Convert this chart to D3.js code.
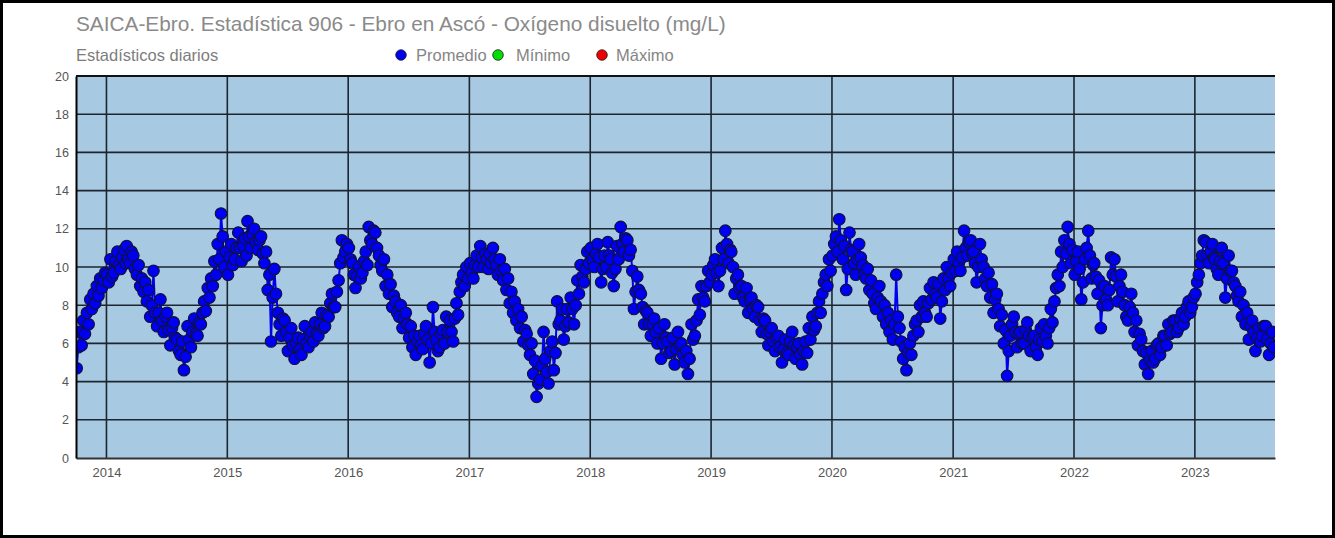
<!DOCTYPE html>
<html>
<head>
<meta charset="utf-8">
<script src="https://cdn.jsdelivr.net/npm/d3@7"></script>
<style>
  html, body { margin: 0; padding: 0; background: #fff; }
  #chart { width: 1335px; height: 538px; box-sizing: border-box; border: 3px solid #000; }
  text { font-family: "Liberation Sans", Arial, sans-serif; }
</style>
</head>
<body>
<div id="chart"></div>
<script>
// daily statistics, read as 6 readings per month (days 3, 8, 13, 18, 23, 28)
const oxy2013 = [4.7, 5.8, 6.6, 5.9, 7.2, 6.5,  7.6, 7.0, 8.3, 7.8, 8.6, 8.1,  9.0, 8.5, 9.4, 8.9, 9.3, 9.7];
const oxy2014 = [9.6, 9.2, 10.4, 9.5, 9.7, 10.3,  10.8, 10.1, 9.9, 10.5, 10.9, 10.2,
                 11.1, 10.4, 10.2, 10.8, 10.6, 9.9,  9.6, 10.1, 9.0, 9.4, 8.7, 9.2,
                 8.2, 8.8, 7.4, 8.0, 9.8, 7.6,  6.9, 7.6, 8.3, 7.2, 6.6, 7.4,
                 7.6, 6.7, 5.9, 6.8, 7.1, 6.3,  6.2, 5.6, 5.4, 6.1, 4.6, 5.3,
                 6.9, 6.2, 5.8, 6.6, 7.3, 6.5,  6.4, 7.1, 7.0, 7.6, 8.2, 7.7,
                 8.9, 8.4, 9.4, 9.0, 10.3, 9.6,  11.2, 10.4, 12.8, 11.6, 10.0, 10.8];
const oxy2015 = [9.6, 10.5, 11.2, 10.1, 10.4, 11.0,  11.8, 11.0, 10.3, 11.1, 11.5, 10.6,
                 12.4, 11.6, 11.0, 11.7, 12.0, 11.3,  10.9, 11.4, 11.6, 10.7, 10.2, 10.8,
                 8.8, 9.6, 6.1, 8.4, 9.9, 8.6,  7.6, 7.0, 6.4, 7.3, 7.2, 6.6,
                 5.6, 6.3, 6.8, 5.9, 5.2, 6.0,  6.3, 5.7, 5.4, 6.2, 6.9, 6.0,
                 5.8, 6.4, 6.6, 6.1, 7.1, 6.5,  6.4, 7.0, 7.6, 6.8, 6.9, 7.5,
                 7.4, 8.1, 8.6, 7.9, 7.9, 8.7,  9.3, 10.2, 11.4, 10.5, 10.8, 11.2];
const oxy2016 = [11.0, 10.4, 10.2, 9.6, 8.9, 9.5,  10.0, 9.4, 9.7, 10.3, 10.8, 10.1,
                 12.1, 11.4, 11.2, 11.9, 11.8, 11.0,  10.6, 10.1, 9.8, 10.4, 9.0, 9.6,
                 8.6, 9.1, 7.9, 8.5, 8.2, 7.6,  7.4, 8.0, 6.8, 7.3, 7.6, 7.0,
                 6.3, 6.9, 5.8, 6.4, 5.4, 6.1,  6.4, 5.9, 5.7, 6.5, 6.9, 6.2,
                 5.0, 6.0, 7.9, 6.6, 6.2, 5.6,  5.8, 6.5, 6.7, 6.0, 7.4, 6.6,
                 7.2, 6.6, 6.1, 7.3, 8.1, 7.5,  8.7, 9.2, 9.6, 9.0, 10.0, 9.4];
const oxy2017 = [10.2, 9.7, 9.4, 10.1, 10.6, 10.0,  11.1, 10.5, 10.0, 10.7, 10.4, 9.9,
                 10.7, 10.2, 11.0, 10.4, 10.1, 9.6,  10.4, 9.8, 9.3, 9.9, 8.8, 9.4,
                 8.1, 8.7, 7.6, 8.2, 7.2, 7.8,  6.8, 7.4, 6.1, 6.7, 6.5, 5.9,
                 5.4, 6.0, 4.4, 5.1, 3.2, 3.9,  4.1, 4.8, 6.6, 5.2, 4.5, 3.9,
                 5.6, 6.1, 4.6, 5.5, 8.2, 7.0,  7.2, 7.8, 6.2, 6.9, 7.8, 7.1,
                 8.4, 7.8, 7.0, 8.0, 9.3, 8.6,  10.1, 9.5, 9.2, 9.9, 10.8, 10.2];
const oxy2018 = [11.0, 10.4, 10.0, 10.7, 11.2, 10.5,  9.2, 9.9, 10.6, 10.0, 11.3, 10.6,
                 10.4, 9.7, 9.0, 9.9, 11.1, 10.4,  12.1, 11.2, 10.8, 11.5, 11.4, 10.6,
                 10.9, 9.8, 7.8, 8.7, 9.5, 8.8,  8.6, 7.9, 7.0, 7.7, 7.6, 7.0,
                 6.4, 7.0, 7.3, 6.6, 6.0, 6.8,  5.2, 6.0, 7.0, 6.3, 6.1, 5.5,
                 5.6, 6.3, 4.9, 5.7, 6.6, 5.9,  6.0, 5.4, 5.0, 5.6, 4.4, 5.2,
                 7.0, 6.2, 6.4, 7.2, 8.3, 7.5,  9.0, 8.4, 8.2, 9.0, 9.8, 9.2];
const oxy2019 = [9.6, 10.1, 10.4, 9.7, 9.0, 9.8,  11.0, 10.4, 11.9, 11.2, 10.2, 10.9,
                 10.8, 10.0, 8.6, 9.4, 9.6, 8.9,  9.0, 8.4, 8.2, 8.9, 7.6, 8.3,
                 8.4, 7.8, 7.4, 8.0, 7.9, 7.2,  6.6, 7.3, 7.2, 6.5, 5.9, 6.6,
                 6.8, 6.1, 5.6, 6.3, 6.4, 5.8,  5.0, 5.7, 6.2, 5.5, 5.4, 6.1,
                 6.6, 5.9, 5.2, 5.8, 6.0, 5.4,  4.9, 5.6, 6.1, 5.5, 6.8, 6.2,
                 7.4, 6.7, 6.9, 7.6, 8.2, 7.6,  8.6, 9.2, 9.6, 9.0, 10.4, 9.8];
const oxy2020 = [10.6, 11.2, 11.6, 10.8, 12.5, 11.4,  10.4, 11.1, 8.8, 9.9, 11.8, 10.9,
                 10.8, 10.2, 9.6, 10.4, 11.2, 10.5,  10.1, 9.6, 9.4, 9.9, 8.8, 9.3,
                 8.6, 8.1, 7.8, 8.4, 9.0, 8.2,  7.4, 8.0, 7.0, 7.6, 6.6, 7.2,
                 6.2, 7.0, 9.6, 7.4, 6.8, 6.1,  5.2, 5.8, 4.6, 5.5, 6.0, 5.4,
                 6.4, 7.0, 7.2, 6.6, 8.0, 7.4,  8.2, 7.6, 7.4, 8.1, 8.9, 8.3,
                 9.2, 8.6, 8.4, 9.1, 7.3, 8.2,  9.4, 8.8, 10.0, 9.4, 9.0, 9.7];
const oxy2021 = [10.4, 9.8, 10.8, 10.2, 9.8, 10.5,  11.9, 11.0, 10.6, 11.3, 11.4, 10.7,
                 10.8, 10.2, 9.2, 10.0, 11.2, 10.4,  10.0, 9.4, 9.0, 9.7, 8.4, 9.1,
                 7.6, 8.3, 8.6, 7.8, 6.9, 7.5,  6.0, 6.7, 4.3, 5.6, 6.4, 7.0,
                 7.4, 6.6, 5.8, 6.5, 6.6, 6.0,  6.0, 6.7, 7.1, 6.4, 5.6, 6.3,
                 6.4, 5.8, 5.4, 6.2, 6.8, 6.1,  7.0, 6.4, 6.0, 6.8, 7.8, 7.1,
                 8.2, 8.9, 9.6, 9.0, 10.8, 10.0,  11.4, 10.7, 12.1, 11.2, 10.2, 10.9];
const oxy2022 = [9.6, 10.3, 10.8, 9.9, 8.3, 9.2,  10.4, 11.0, 11.9, 10.6, 9.4, 10.1,
                 10.2, 9.5, 8.6, 9.3, 6.8, 8.0,  9.0, 8.3, 8.0, 8.8, 10.5, 9.6,
                 10.4, 9.5, 8.2, 9.0, 9.6, 8.7,  8.0, 7.4, 7.2, 7.9, 8.6, 7.6,
                 6.6, 7.2, 5.9, 6.5, 6.2, 5.6,  4.9, 5.5, 4.4, 5.1, 5.6, 5.0,
                 5.2, 5.9, 6.0, 5.4, 5.8, 6.4,  6.4, 5.9, 7.0, 6.5, 6.6, 7.2,
                 7.2, 6.6, 6.8, 7.3, 7.6, 7.0,  7.4, 7.9, 8.2, 7.6, 7.9, 8.4];
const oxy2023 = [8.6, 9.2, 9.6, 10.2, 10.6, 11.4,  11.3, 10.6, 10.2, 10.8, 11.2, 10.5,
                 10.4, 9.9, 9.6, 10.3, 11.0, 10.2,  8.4, 9.4, 10.6, 9.8, 9.8, 9.2,
                 9.0, 8.5, 8.2, 8.7, 7.4, 8.0,  7.0, 7.6, 6.2, 6.9, 7.2, 6.6,
                 5.6, 6.3, 6.8, 6.1, 6.4, 6.9,  6.9, 6.2, 5.4, 6.0, 6.6, 5.8];

const readingDays = [3, 8, 13, 18, 23, 28];
const years = [2014, 2015, 2016, 2017, 2018, 2019, 2020, 2021, 2022, 2023];
const yTicks = [0, 2, 4, 6, 8, 10, 12, 14, 16, 18, 20];
const legendItems = [
    { name: 'Promedio', color: '#0000ee' },
    { name: 'Mínimo', color: '#00dd00' },
    { name: 'Máximo', color: '#ee0000' }
];

const title = 'SAICA-Ebro. Estadística 906 - Ebro en Ascó - Oxígeno disuelto (mg/L)';
const subtitle = 'Estadísticos diarios';

// attach dates: first series starts in October 2013
const series = [];
[[2013, 9, oxy2013], [2014, 0, oxy2014], [2015, 0, oxy2015], [2016, 0, oxy2016],
 [2017, 0, oxy2017], [2018, 0, oxy2018], [2019, 0, oxy2019], [2020, 0, oxy2020],
 [2021, 0, oxy2021], [2022, 0, oxy2022], [2023, 0, oxy2023]].forEach(([yr, m0, vals]) => {
    vals.forEach((v, i) => {
        const month = m0 + Math.floor(i / readingDays.length);
        const day = readingDays[i % readingDays.length];
        series.push({ date: new Date(yr, month, day), value: v });
    });
});

const width = 1329;
const height = 532;
const margin = { top: 73, right: 57, bottom: 77, left: 73 };

const svg = d3.select('#chart')
    .append('svg')
    .attr('width', width)
    .attr('height', height)
    .style('display', 'block');

const x = d3.scaleTime()
    .domain([new Date(2013, 9, 1), new Date(2023, 7, 31)])
    .range([margin.left, width - margin.right]);

const y = d3.scaleLinear()
    .domain([0, 20])
    .range([height - margin.bottom, margin.top]);

// titles
svg.append('text')
    .attr('x', margin.left)
    .attr('y', 28)
    .attr('fill', '#8a8a8a')
    .attr('font-size', '20.8px')
    .text(title);

svg.append('text')
    .attr('x', margin.left)
    .attr('y', 58)
    .attr('fill', '#7d7d7d')
    .attr('font-size', '16.5px')
    .text(subtitle);

// legend
const legendX = [398, 495, 599];
const legendTextX = [413, 513, 613];
const legend = svg.append('g');
legendItems.forEach((d, i) => {
    legend.append('circle')
        .attr('cx', legendX[i])
        .attr('cy', 52)
        .attr('r', 5.3)
        .attr('fill', d.color)
        .attr('stroke', '#222')
        .attr('stroke-width', 0.8);
    legend.append('text')
        .attr('x', legendTextX[i])
        .attr('y', 58)
        .attr('fill', '#858585')
        .attr('font-size', '16.5px')
        .text(d.name);
});

// plot background
svg.append('rect')
    .attr('x', margin.left)
    .attr('y', margin.top)
    .attr('width', width - margin.left - margin.right)
    .attr('height', height - margin.top - margin.bottom)
    .attr('fill', '#a8c9e2');

// grid
svg.append('g')
    .selectAll('line')
    .data(yTicks.filter(t => t > 0))
    .join('line')
    .attr('x1', margin.left)
    .attr('x2', width - margin.right)
    .attr('y1', d => y(d))
    .attr('y2', d => y(d))
    .attr('stroke', '#1c2530')
    .attr('stroke-width', 1.6);

svg.append('g')
    .selectAll('line')
    .data(years)
    .join('line')
    .attr('x1', d => x(new Date(d, 0, 1)))
    .attr('x2', d => x(new Date(d, 0, 1)))
    .attr('y1', margin.top)
    .attr('y2', height - margin.bottom)
    .attr('stroke', '#1c2530')
    .attr('stroke-width', 1.6);

// data
svg.append('clipPath')
    .attr('id', 'plotClip')
    .append('rect')
    .attr('x', margin.left)
    .attr('y', margin.top)
    .attr('width', width - margin.left - margin.right)
    .attr('height', height - margin.top - margin.bottom);

const plot = svg.append('g').attr('clip-path', 'url(#plotClip)');

const line = d3.line()
    .x(d => x(d.date))
    .y(d => y(d.value));

plot.append('path')
    .datum(series)
    .attr('fill', 'none')
    .attr('stroke', '#0000ee')
    .attr('stroke-width', 2)
    .attr('d', line);

plot.append('g')
    .selectAll('circle')
    .data(series)
    .join('circle')
    .attr('cx', d => x(d.date))
    .attr('cy', d => y(d.value))
    .attr('r', 5.8)
    .attr('fill', '#0000f0')
    .attr('stroke', '#10103a')
    .attr('stroke-width', 1.1);

// axes
function yAxis(g) {
    g.attr('transform', `translate(${margin.left},0)`)
        .call(d3.axisLeft(y).tickValues(yTicks).tickSize(0).tickPadding(7))
        .call(g => g.select('.domain').attr('stroke', '#000').attr('stroke-width', 2))
        .selectAll('text')
        .attr('fill', '#555')
        .attr('font-size', '12.5px')
        .attr('font-family', '"Liberation Sans", Arial, sans-serif');
}

function xAxis(g) {
    g.attr('transform', `translate(0,${height - margin.bottom})`)
        .call(d3.axisBottom(x).tickValues(years.map(yr => new Date(yr, 0, 1)))
            .tickFormat(d3.timeFormat('%Y')).tickSize(0).tickPadding(10))
        .call(g => g.select('.domain').attr('stroke', '#333').attr('stroke-width', 2))
        .selectAll('text')
        .attr('fill', '#555')
        .attr('font-size', '13px')
        .attr('font-family', '"Liberation Sans", Arial, sans-serif');
}

svg.append('g').call(xAxis);
svg.append('g').call(yAxis);

// top edge of plot
svg.append('line')
    .attr('x1', margin.left)
    .attr('x2', width - margin.right)
    .attr('y1', margin.top)
    .attr('y2', margin.top)
    .attr('stroke', '#111')
    .attr('stroke-width', 2);
</script>
</body>
</html>
